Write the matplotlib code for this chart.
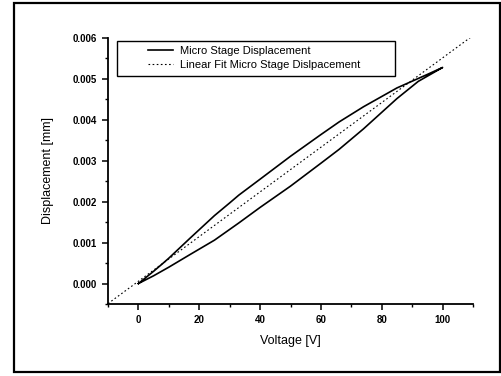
import matplotlib.pyplot as plt
from matplotlib.patches import Rectangle
from matplotlib.ticker import MultipleLocator, FormatStrFormatter

plt.rcParams['font.family'] = ['Liberation Sans', 'DejaVu Sans']

# forward sweep (lower branch of the loop)
up_v = [0, 5, 10, 17, 25, 33, 40, 50, 60, 66, 74, 85, 92, 100]
up_d = [0, 0.00019, 0.00040, 0.00071, 0.00106, 0.00148, 0.00186, 0.00238,
        0.00294, 0.00328, 0.00378, 0.00452, 0.00494, 0.00528]

# backward sweep (upper branch of the loop)
down_v = [100, 95, 85, 74, 66, 60, 50, 40, 33, 30, 25, 17, 10, 8, 5, 0]
down_d = [0.00528, 0.00511, 0.00478, 0.00432, 0.00395, 0.00364, 0.00311,
          0.00255, 0.00216, 0.00197, 0.00166, 0.00111, 0.00062, 0.00049,
          0.00030, 0]

# linear fit line, end points
fit_v = [-10, 110]
fit_d = [-0.00049, 0.00606]

loop_v = up_v + down_v[1:]
loop_d = up_d + down_d[1:]

fig = plt.figure(figsize=(5.01, 3.76), dpi=100)
ax = fig.add_axes([108 / 501, 1 - 304 / 376, 365 / 501, 266 / 376])

ax.plot(loop_v, loop_d, color='black', lw=1.2, solid_joinstyle='round',
        label='Micro Stage Displacement')
ax.plot(fit_v, fit_d, color='black', lw=0.8, dashes=(1.5, 2.2),
        label='Linear Fit Micro Stage Dislpacement')

ax.set_xlim(-10, 110)
ax.set_ylim(-0.0005, 0.006)

ax.spines['top'].set_visible(False)
ax.spines['right'].set_visible(False)
for s in ['left', 'bottom']:
    ax.spines[s].set_linewidth(1.3)

ax.set_xticks([0, 20, 40, 60, 80, 100])
ax.xaxis.set_minor_locator(MultipleLocator(10))
ax.yaxis.set_major_locator(MultipleLocator(0.001))
ax.yaxis.set_minor_locator(MultipleLocator(0.0005))
ax.yaxis.set_major_formatter(FormatStrFormatter('%.3f'))

ax.tick_params(which='major', direction='out', length=4, width=1.1,
               labelsize=7, pad=4)
ax.tick_params(which='minor', direction='out', length=2.5, width=1.0)
for lab in ax.get_xticklabels() + ax.get_yticklabels():
    lab.set_fontweight('bold')

ax.set_xlabel('Voltage [V]', fontsize=9, labelpad=7)
ax.set_ylabel('Displacement [mm]', fontsize=9, labelpad=13)

# legend with its own frame
x0, x1 = (117 - 108) / 365, (395 - 108) / 365
y0, y1 = (304 - 76) / 266, (304 - 41) / 266
ax.add_patch(Rectangle((x0, y0), x1 - x0, y1 - y0, transform=ax.transAxes,
                       fill=False, edgecolor='black', lw=1.0, zorder=5))
leg = ax.legend(loc='upper left',
                bbox_to_anchor=((146 - 108) / 365, (304 - 44) / 266),
                frameon=False, fontsize=8, handlelength=2.2, handletextpad=0.7,
                labelspacing=0.3, borderpad=0.2, borderaxespad=0)

# outer frame around the whole picture
fig.patches.append(Rectangle((14 / 501, 1 - 372 / 376), 486 / 501, 369 / 376,
                             transform=fig.transFigure, fill=False,
                             edgecolor='black', lw=1.6))

fig.savefig('out.png', dpi=100)
